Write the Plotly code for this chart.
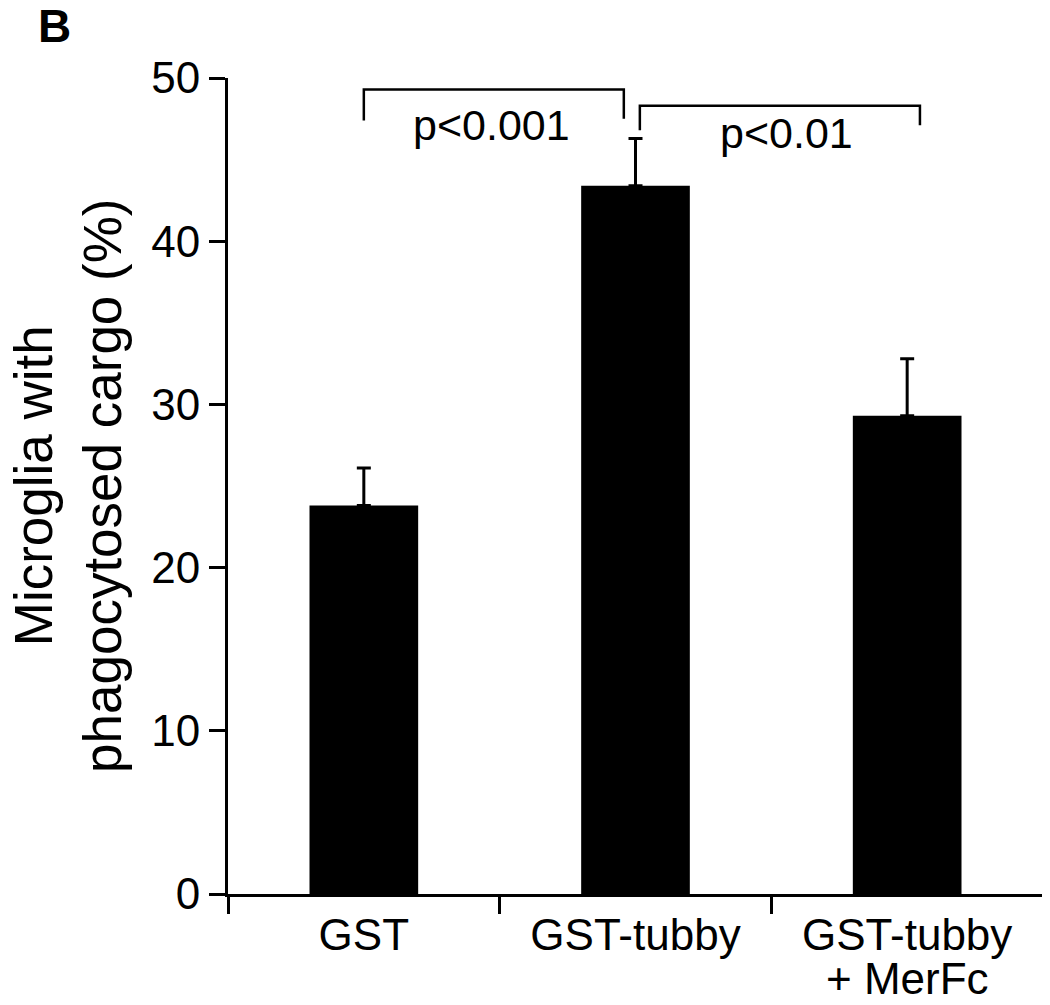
import plotly.graph_objects as go

categories = ["GST", "GST-tubby", "GST-tubby + MerFc"]
tick_labels = ["GST", "GST-tubby", "GST-tubby"]
tick_label_line2 = "+ MerFc"
means = [23.8, 43.4, 29.3]
errors = [2.3, 2.9, 3.5]
y_ticks = [0, 10, 20, 30, 40, 50]
p_labels = ["p<0.001", "p<0.01"]
y_title = "Microglia with<br>phagocytosed cargo (%)"

FONT = "Liberation Sans, Arial, sans-serif"

fig = go.Figure()
fig.add_trace(go.Bar(
    x=categories, y=means,
    width=0.4,
    marker=dict(color="black", line=dict(width=0)),
    error_y=dict(type="data", array=errors, symmetric=False, arrayminus=[0, 0, 0],
                 color="black", thickness=3, width=7),
))

# significance brackets
brackets = [
    dict(x0=0.0, x1=0.957, ytop=49.3, yl=47.4, yr=47.5),
    dict(x0=1.016, x1=2.047, ytop=48.3, yl=46.8, yr=47.1),
]
for b in brackets:
    fig.add_shape(type="path",
                  path=f"M {b['x0']},{b['yl']} L {b['x0']},{b['ytop']} L {b['x1']},{b['ytop']} L {b['x1']},{b['yr']}",
                  xref="x", yref="y", line=dict(color="black", width=2.5))

fig.add_annotation(x=0.47, y=47.1, xref="x", yref="y", text=p_labels[0], showarrow=False,
                   font=dict(family=FONT, size=43, color="black"), yanchor="middle")
fig.add_annotation(x=1.557, y=46.6, xref="x", yref="y", text=p_labels[1], showarrow=False,
                   font=dict(family=FONT, size=43, color="black"), yanchor="middle")

# second line of the third category label (tighter line spacing than plotly's <br>)
fig.add_annotation(x=categories[2], y=-0.1031, xref="x", yref="paper", text=tick_label_line2,
                   showarrow=False, font=dict(family=FONT, size=44, color="black"),
                   xanchor="center", yanchor="middle")

fig.add_annotation(x=(54 - 228) / 815, y=1.0637, xref="paper", yref="paper", text="<b>B</b>",
                   showarrow=False, font=dict(family=FONT, size=46, color="black"),
                   xanchor="center", yanchor="middle")

fig.add_annotation(x=(68 - 228) / 815, y=0.5, xref="paper", yref="paper", text=y_title,
                   showarrow=False, textangle=-90,
                   font=dict(family=FONT, size=53, color="black"),
                   xanchor="center", yanchor="middle")

# page body has an 8px default margin, so the figure is sized/shifted to compensate
fig.update_layout(
    width=1042, height=997,
    margin=dict(l=220, r=7, t=70, b=111, pad=0),
    plot_bgcolor="white", paper_bgcolor="white",
    showlegend=False,
    font=dict(family=FONT, color="black"),
    xaxis=dict(
        type="category", range=[-0.5, 2.5], automargin=False,
        tickmode="array", tickvals=categories, ticktext=tick_labels,
        showline=True, linecolor="black", linewidth=3,
        ticks="outside", tickson="boundaries", ticklen=17, tickwidth=3, tickcolor="black",
        tickfont=dict(family=FONT, size=44, color="black"),
        showgrid=False, zeroline=False,
    ),
    yaxis=dict(
        range=[0, 50], tickvals=y_ticks, automargin=False,
        showline=True, linecolor="black", linewidth=3,
        ticks="outside", ticklen=16, tickwidth=3, tickcolor="black",
        tickfont=dict(family=FONT, size=44, color="black"),
        showgrid=False, zeroline=False,
    ),
)

fig.write_html("out.html")
